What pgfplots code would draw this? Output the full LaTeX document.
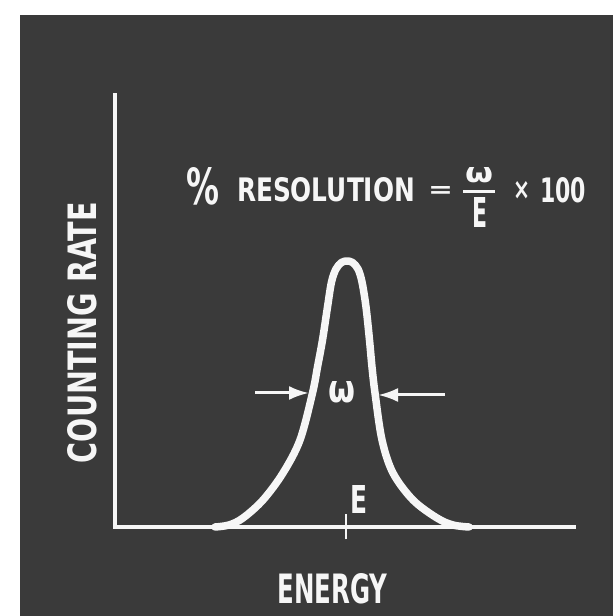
\documentclass[border=0pt]{standalone}
\usepackage{fontspec}
\setmainfont{DejaVu Sans}
\usepackage{graphicx}
\usepackage{pgfplots}
\pgfplotsset{compat=1.18}
\usetikzlibrary{arrows.meta}

\definecolor{slate}{RGB}{58,58,58}
\definecolor{chalk}{RGB}{246,246,246}
% text squeezed into a box of given width and height (pt)
\newcommand{\fit}[3]{\resizebox{#1pt}{#2pt}{\bfseries #3}}

\begin{document}
\begin{tikzpicture}[x=1pt,y=1pt]
\useasboundingbox (0,0) rectangle (613,616);
\fill[white] (0,0) rectangle (613,616);
\fill[slate] (20,0) rectangle (613,601);

\begin{axis}[
  at={(115pt,89pt)}, anchor=south west,
  scale only axis, width=459pt, height=432pt,
  xmin=0, xmax=459, ymin=0, ymax=432,
  axis x line=bottom, axis y line=left,
  axis line style={-, chalk, line width=4.5pt, line cap=rect},
  xtick=\empty, ytick=\empty,
  extra x ticks={231}, extra x tick labels={},
  extra x tick style={major tick length=25pt, tick align=center,
    tick style={chalk, line width=2.5pt}},
  clip=false,
]
% peak (x: px from axis, y: px above baseline)
\addplot[chalk, line width=7.5pt, smooth, tension=0.55, line join=round, line cap=round] coordinates {
(100,0) (114,2) (128,9) (148,27) (168,54) (185,87) (197.5,134)
(202.5,160) (207.5,187) (212.5,220) (216.5,245) (221,258) (226.5,264.5)
(232,266)
(237.5,264.5) (243,258) (247,245) (251,220) (254.5,187) (257,160)
(260,134) (267,87) (278,54) (298,27) (322,9) (338,2) (354,0)};
\end{axis}

% width arrows
\draw[chalk, line width=3pt, -{Latex[length=20pt,width=14pt]}] (255,223) -- (309,223);
\draw[chalk, line width=3pt, -{Latex[length=20pt,width=14pt]}] (445,221) -- (378,221);

\begin{scope}[every node/.style={inner sep=0pt, text=chalk}]
\node at (341.5,223.5) {\fit{27}{21}{ω}};
\node at (358.5,117) {\fit{17}{28}{E}};
\node[rotate=90] at (82.5,283.5) {\fit{261}{29}{COUNTING RATE}};
\node at (332.5,27.5) {\fit{110}{30}{ENERGY}};
% formula
\node at (202.5,430) {\fit{33}{37}{\%}};
\node at (326,426) {\fit{178}{24}{RESOLUTION}};
\node at (440.5,423.5) {\fit{25}{11}{=}};
\node at (479,440.5) {\fit{28}{15}{ω}};
\node at (479.5,403) {\fit{15}{30}{E}};
\node at (521.5,425) {\fit{17}{18}{×}};
\node at (563,425.5) {\fit{46}{25}{100}};
\end{scope}
\draw[chalk, line width=3pt] (463,424) -- (495,424);
\end{tikzpicture}
\end{document}
